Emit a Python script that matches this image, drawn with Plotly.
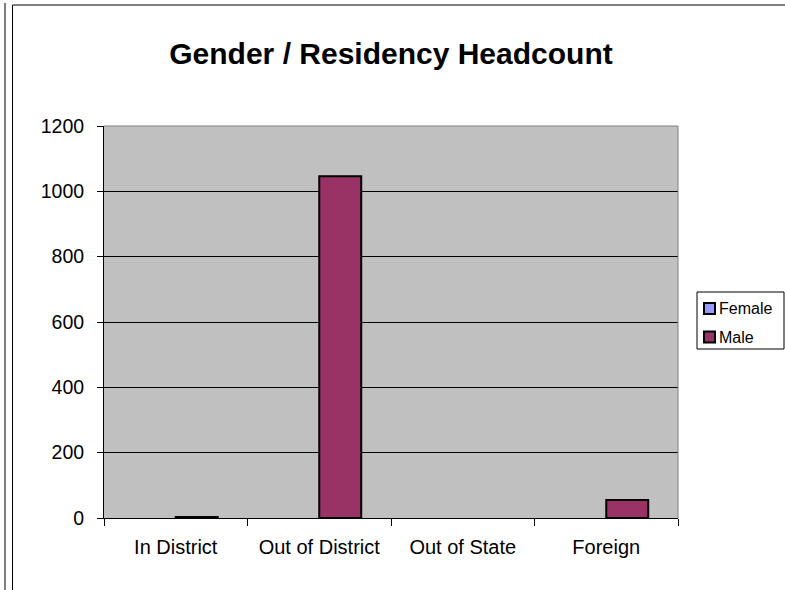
import plotly.graph_objects as go

categories = ["In District", "Out of District", "Out of State", "Foreign"]
female = [0, 0, 0, 0]
male = [3, 1046, 0, 55]
y_ticks = [0, 200, 400, 600, 800, 1000, 1200]
series_names = ["Female", "Male"]
series_colors = ["#9999FF", "#993366"]

W, H = 785, 590
L, R, T, B = 104, 678, 126, 518

def px(x):
    return (x - L) / (R - L)

def py(y):
    return (B - y) / (B - T)

fig = go.Figure()
for name, color, vals in zip(series_names, series_colors, [female, male]):
    fig.add_trace(go.Bar(
        name=name, x=categories, y=vals, showlegend=False,
        marker=dict(color=color,
                    line=dict(color="black", width=[2 if v > 0 else 0 for v in vals]))))

font = "Arial, Liberation Sans, sans-serif"
fig.update_layout(
    width=W, height=H, autosize=False,
    margin=dict(l=L, r=W - R, t=T, b=H - B, pad=0, autoexpand=False),
    paper_bgcolor="white", plot_bgcolor="#C0C0C0",
    barmode="group", bargap=0.415, bargroupgap=0,
    font=dict(family=font, size=20, color="black"),
    title=dict(text="<b>Gender / Residency Headcount</b>", x=0.5, xref="paper",
               xanchor="center", y=1 - 53.5 / H, yanchor="middle",
               font=dict(size=30, family=font, color="black")),
    showlegend=False,
    xaxis=dict(type="category", showgrid=False, ticks="outside", ticklen=7,
               tickson="boundaries", tickcolor="black", showline=True,
               linecolor="black", linewidth=1, ticklabelstandoff=11,
               tickfont=dict(size=20)),
    yaxis=dict(range=[0, 1200], tickvals=y_ticks, ticks="outside", ticklen=6,
               tickcolor="black", showline=True, linecolor="black", linewidth=1,
               showgrid=True, gridcolor="black", gridwidth=1, zeroline=False,
               ticklabelstandoff=9, tickfont=dict(size=19.5)),
)

shapes = [
    # plot area border (top/right)
    dict(type="line", xref="paper", yref="paper", x0=0, x1=1, y0=1, y1=1,
         line=dict(color="#808080", width=1)),
    dict(type="line", xref="paper", yref="paper", x0=1, x1=1, y0=0, y1=1,
         line=dict(color="#808080", width=1)),
    # outer frames
    dict(type="line", xref="paper", yref="paper", x0=px(5), x1=px(5), y0=py(3), y1=py(H + 5),
         line=dict(color="black", width=1)),
    dict(type="line", xref="paper", yref="paper", x0=px(12.5), x1=px(12.5), y0=py(5), y1=py(H + 5),
         line=dict(color="black", width=1)),
    dict(type="line", xref="paper", yref="paper", x0=px(12.5), x1=px(W + 5), y0=py(5), y1=py(5),
         line=dict(color="black", width=1)),
    # legend box
    dict(type="rect", xref="paper", yref="paper", x0=px(697), x1=px(784), y0=py(292), y1=py(349),
         line=dict(color="black", width=1), fillcolor="white"),
]
annotations = []
legend_y = [308.5, 337]
for name, color, ly in zip(series_names, series_colors, legend_y):
    shapes.append(dict(type="rect", xref="paper", yref="paper",
                       x0=px(704), x1=px(715), y0=py(ly - 5.5), y1=py(ly + 5.5),
                       line=dict(color="black", width=2), fillcolor=color))
    annotations.append(dict(text=name, xref="paper", yref="paper", x=px(717), y=py(ly),
                            xanchor="left", yanchor="middle", showarrow=False,
                            font=dict(size=16, family=font, color="black")))
fig.update_layout(shapes=shapes, annotations=annotations)

fig.write_html("out.html", config={"displayModeBar": False},
               post_script="document.body.style.margin='0px';")
